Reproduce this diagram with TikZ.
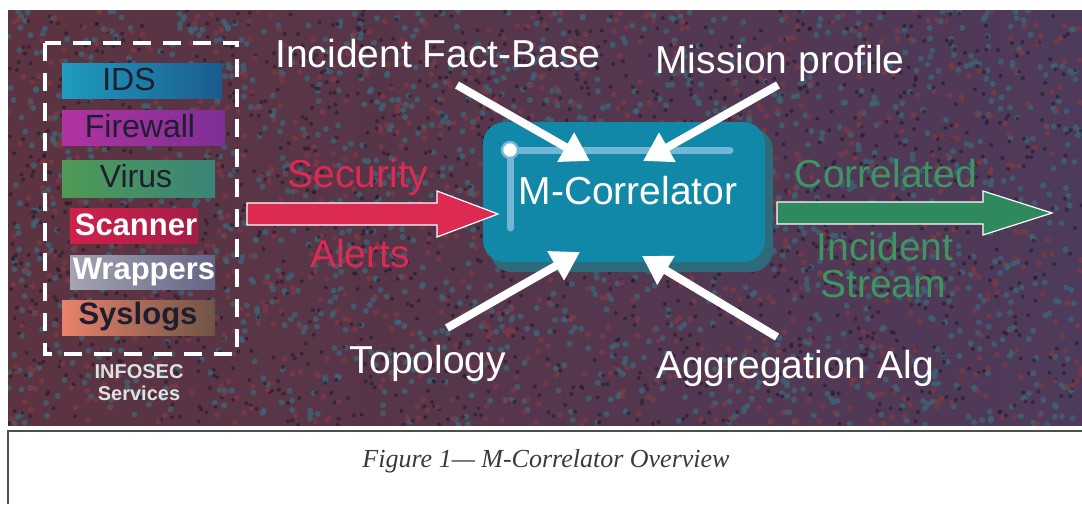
\documentclass[tikz,border=0pt]{standalone}
\usepackage{fontspec}
\setmainfont{Liberation Sans}
\newfontfamily\capfont{Liberation Serif}
\usetikzlibrary{arrows.meta}
\definecolor{bgL}{HTML}{5C3340}
\definecolor{bgR}{HTML}{4E3A5A}
\definecolor{speckT}{HTML}{3D6678}
\definecolor{speckD}{HTML}{24192A}
\definecolor{speckR}{HTML}{7E3A42}
\definecolor{boxmain}{HTML}{1188A8}
\definecolor{boxshade}{HTML}{2E6A7A}
\definecolor{hilite}{HTML}{72B8D6}
\definecolor{redA}{HTML}{DC2A52}
\definecolor{greenA}{HTML}{2E8A5E}
\definecolor{greenT}{HTML}{3F9464}
\definecolor{capgray}{HTML}{3A3A3A}
\definecolor{barText}{HTML}{1E1E2E}
\definecolor{idsL}{HTML}{1F9CC0}\definecolor{idsR}{HTML}{1B5B8E}
\definecolor{fwL}{HTML}{B0339F}\definecolor{fwR}{HTML}{7E2F96}
\definecolor{virL}{HTML}{4F9A55}\definecolor{virR}{HTML}{3A8478}
\definecolor{scL}{HTML}{D0204A}\definecolor{scR}{HTML}{A41E48}
\definecolor{wrL}{HTML}{A4A4B2}\definecolor{wrR}{HTML}{646486}
\definecolor{syL}{HTML}{E8826C}\definecolor{syR}{HTML}{6E5446}
\tikzset{
  biglabel/.style={text=white, font=\fontsize{19.5pt}{22pt}\selectfont, inner sep=0pt, anchor=base},
  redlabel/.style={text=redA, font=\fontsize{19.5pt}{22pt}\selectfont, inner sep=0pt, anchor=base},
  greenlabel/.style={text=greenT, font=\fontsize{19.5pt}{22pt}\selectfont, inner sep=0pt, anchor=base},
  bartext/.style={font=\fontsize{16pt}{18pt}\selectfont, inner sep=0pt, anchor=base},
  barbold/.style={font=\bfseries\fontsize{15.5pt}{18pt}\selectfont, inner sep=0pt, anchor=base},
  warrow/.style={draw=white, line width=4pt, -{Triangle[length=14pt,width=16pt]}},
  blockarrow/.style={draw=white, line width=0.6pt, line join=miter},
}
\begin{document}
\begin{tikzpicture}[x=0.5pt,y=-0.5pt]
\useasboundingbox (0,0) rectangle (1082,504);
\fill[white] (0,0) rectangle (1082,504);
% textured background panel
\shade[left color=bgL, right color=bgR] (8,10) rectangle (1082,425);
\begin{scope}
\clip (8,10) rectangle (1082,425);
\pgfmathsetseed{11}
\foreach \i in {1,...,1500}{
  \pgfmathsetmacro\px{8+1074*rnd}\pgfmathsetmacro\py{10+415*rnd}
  \fill[speckT, opacity=0.75] (\px,\py) circle[radius=1.5pt];
}
\foreach \i in {1,...,1500}{
  \pgfmathsetmacro\px{8+1074*rnd}\pgfmathsetmacro\py{10+415*rnd}
  \fill[speckD, opacity=0.6] (\px,\py) circle[radius=1pt];
}
\foreach \i in {1,...,1000}{
  \pgfmathsetmacro\px{8+1074*rnd}\pgfmathsetmacro\py{10+415*rnd}
  \fill[speckR, opacity=0.75] (\px,\py) circle[radius=1.4pt];
}
\end{scope}
% caption frame
\draw[capgray!90, line width=1.3pt] (1082,431) -- (8,431) -- (8,504);
\node[font=\capfont\itshape\fontsize{13pt}{16pt}\selectfont, text=capgray, inner sep=0pt] (cap) at (546,461) {Figure 1— M-Correlator Overview};

% INFOSEC services group
\draw[white, line width=2pt, dash pattern=on 9pt off 6pt] (45,43) rectangle (237,354);
\shade[left color=idsL, right color=idsR] (62,63) rectangle (222,98);
\shade[left color=fwL, right color=fwR] (62,110) rectangle (225,145);
\shade[left color=virL, right color=virR] (62,160) rectangle (215,197);
\shade[left color=scL, right color=scR] (70,208) rectangle (198,243);
\shade[left color=wrL, right color=wrR] (70,255) rectangle (215,289);
\shade[left color=syL, right color=syR] (62,300) rectangle (215,335);
\node[bartext, text=barText] (ids) at (129,90) {IDS};
\node[bartext, text=barText] (fw) at (140,137) {Firewall};
\node[bartext, text=barText] (virus) at (136,187) {Virus};
\node[barbold, text=white] (scan) at (136,235) {Scanner};
\node[barbold, text=white] (wrap) at (144,279) {Wrappers};
\node[barbold, text=barText] (sys) at (138,324) {Syslogs};
\node[text=white!88!black, font=\bfseries\fontsize{10pt}{11pt}\selectfont, align=center, inner sep=0pt] (infosec) at (139,383) {INFOSEC\\Services};

% M-Correlator box
\fill[boxshade, rounded corners=11pt] (490,128) rectangle (773,272);
\fill[boxmain, rounded corners=11pt] (483,122) rectangle (765,262);
\draw[hilite, line width=3.5pt, line cap=round] (730,150) -- (510,150) -- (510,228);
\fill[white, draw=hilite, line width=1.2pt] (510,150) circle[radius=4pt];
\node[text=white, font=\fontsize{19.5pt}{22pt}\selectfont, inner sep=0pt] (mc) at (628,191) {M-Correlator};

% input red arrow
\filldraw[fill=redA, blockarrow] (247,203) -- (437,203) -- (437,191) -- (498,214) -- (437,237) -- (437,225) -- (247,225) -- cycle;
\node[redlabel] (sec) at (358,187) {Security};
\node[redlabel] (alerts) at (360,267) {Alerts};

% output green arrow
\filldraw[fill=greenA, blockarrow] (777,202) -- (983,202) -- (983,191) -- (1052,213) -- (983,235) -- (983,224) -- (777,224) -- cycle;
\node[greenlabel] (corr) at (886,187) {Correlated};
\node[greenlabel] (inc) at (885,260) {Incident};
\node[greenlabel] (strm) at (883,297) {Stream};

% knowledge inputs
\node[biglabel] (fact) at (438,67) {Incident Fact-Base};
\node[biglabel] (mission) at (780,73) {Mission profile};
\node[biglabel] (topo) at (428,373) {Topology};
\node[biglabel] (aggr) at (795,378) {Aggregation Alg};
\coordinate (factT) at (457,85);
\coordinate (factH) at (590,161);
\coordinate (missT) at (778,85);
\coordinate (missH) at (643,161);
\coordinate (topoT) at (447,328);
\coordinate (topoH) at (580,252);
\coordinate (aggrT) at (777,337);
\coordinate (aggrH) at (642,256);
\draw[warrow] (factT) -- (factH);
\draw[warrow] (missT) -- (missH);
\draw[warrow] (topoT) -- (topoH);
\draw[warrow] (aggrT) -- (aggrH);
\end{tikzpicture}
\end{document}
